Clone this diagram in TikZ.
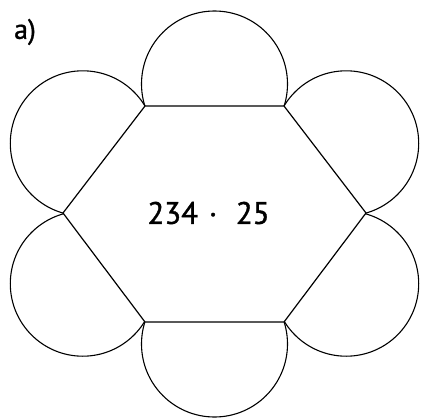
\documentclass[tikz,border=0pt]{standalone}
\usepackage{fontspec}
\setmainfont{PT Sans}
\newfontfamily\medfont[FakeBold=1.2]{PT Sans}
\begin{document}
\begin{tikzpicture}[x=1pt,y=-1pt,
  outline/.style={line width=1.2pt, line join=miter},
  petal/.style={line width=1.1pt}]
\useasboundingbox (0,0) rectangle (421,418);
% hexagon vertices
\coordinate (TL) at (145,106);
\coordinate (TR) at (284,106);
\coordinate (R)  at (366,213);
\coordinate (BR) at (284,322);
\coordinate (BL) at (145,322);
\coordinate (L)  at (63,213);
% petals (circles on each side)
\draw[petal] (214.5,84) circle[radius=73];
\draw[petal] (214.5,344) circle[radius=73];
\draw[petal] (346.2,143.3) circle[radius=72.5];
\draw[petal] (346.2,283.7) circle[radius=72.5];
\draw[petal] (82.8,143.3) circle[radius=72.5];
\draw[petal] (82.8,283.7) circle[radius=72.5];
% hexagon covering the inner parts
\filldraw[outline, fill=white] (TL) -- (TR) -- (R) -- (BR) -- (BL) -- (L) -- cycle;
\node (task) at (208.5,213) {\medfont\fontsize{31}{33}\selectfont 234\hspace{0.35em}·\hspace{0.6em}25};
\node (label) at (25,32) {\medfont\fontsize{28}{30}\selectfont a)};
\end{tikzpicture}
\end{document}
